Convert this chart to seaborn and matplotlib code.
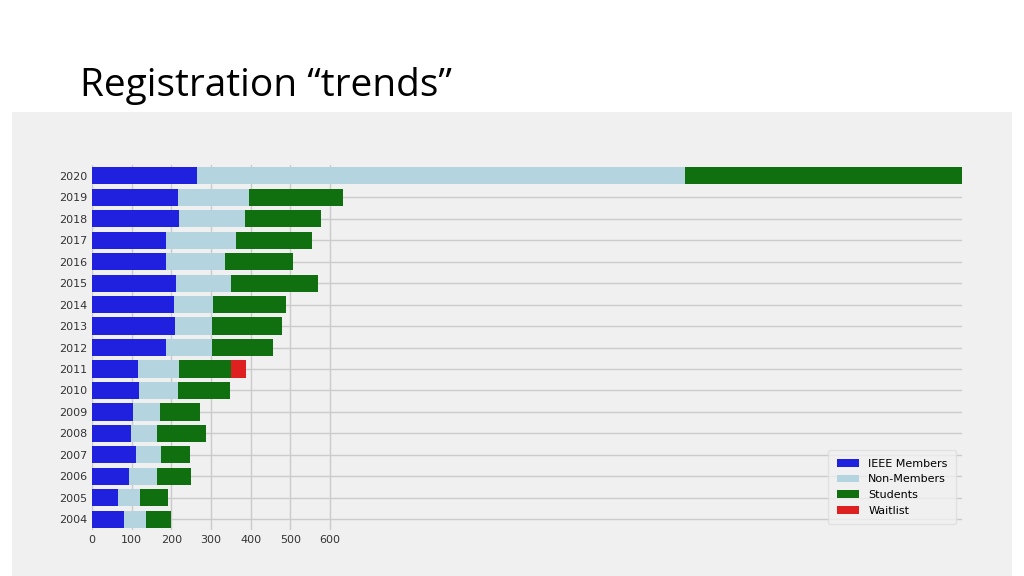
import numpy as np
import pandas as pd
import matplotlib.pyplot as plt
import seaborn as sns

years = [2020, 2019, 2018, 2017, 2016, 2015, 2014, 2013, 2012, 2011, 2010, 2009, 2008, 2007, 2006, 2005, 2004]
ieee = [265, 217, 219, 186, 186, 212, 207, 209, 186, 116, 118, 103, 98, 111, 93, 65, 81]
non_members = [1229, 178, 166, 177, 149, 138, 98, 93, 116, 103, 99, 68, 66, 63, 71, 56, 55]
students = [698, 237, 192, 191, 171, 219, 184, 177, 154, 131, 131, 101, 123, 73, 85, 70, 63]
waitlist = [0, 0, 0, 0, 0, 0, 0, 0, 0, 38, 0, 0, 0, 0, 0, 0, 0]

df = pd.DataFrame({'year': [str(y) for y in years], 'ieee': ieee, 'nm': non_members,
                   'st': students, 'wl': waitlist})
df['c1'] = df['ieee']
df['c2'] = df['c1'] + df['nm']
df['c3'] = df['c2'] + df['st']
df['c4'] = df['c3'] + df['wl']

fig = plt.figure(figsize=(10.24, 5.76), dpi=100)
# grey panel behind the chart
bg = fig.add_axes([12 / 1024, 0, 1000 / 1024, 1 - 112 / 576], zorder=0)
bg.set_facecolor('#f0f0f0')
bg.set_xticks([])
bg.set_yticks([])
for s in bg.spines.values():
    s.set_visible(False)

fig.text(80 / 1024, 1 - 86 / 576, 'Registration \u201ctrends\u201d', fontsize=28,
         family='Open Sans', va='center', color='#000000')

ax = fig.add_axes([92 / 1024, 1 - 530 / 576, 870 / 1024, 365 / 576], zorder=1)
ax.set_facecolor('#f0f0f0')
order = df['year'].tolist()
layers = [('c4', 'red', 'Waitlist'), ('c3', 'green', 'Students'),
          ('c2', 'lightblue', 'Non-Members'), ('c1', 'blue', 'IEEE Members')]
for col, color, lab in layers:
    sns.barplot(data=df, y='year', x=col, order=order, color=color, orient='h',
                width=0.8, ax=ax, label=lab, zorder=2)

ax.set_xlim(0, 2192)
ax.set_xticks([0, 100, 200, 300, 400, 500, 600])
ax.tick_params(axis='both', labelsize=8, length=0, colors='#333333')
ax.set_xlabel('')
ax.set_ylabel('')
ax.grid(True, color='#cbcbcb', linewidth=1, zorder=0)
ax.set_axisbelow(True)
for s in ax.spines.values():
    s.set_visible(False)

h, l = ax.get_legend_handles_labels()
ax.legend(h[::-1], l[::-1], loc='lower right', fontsize=8, frameon=True,
          facecolor='#f0f0f0', edgecolor='#dddddd', borderpad=0.8)

fig.savefig('out.png', dpi=100)
